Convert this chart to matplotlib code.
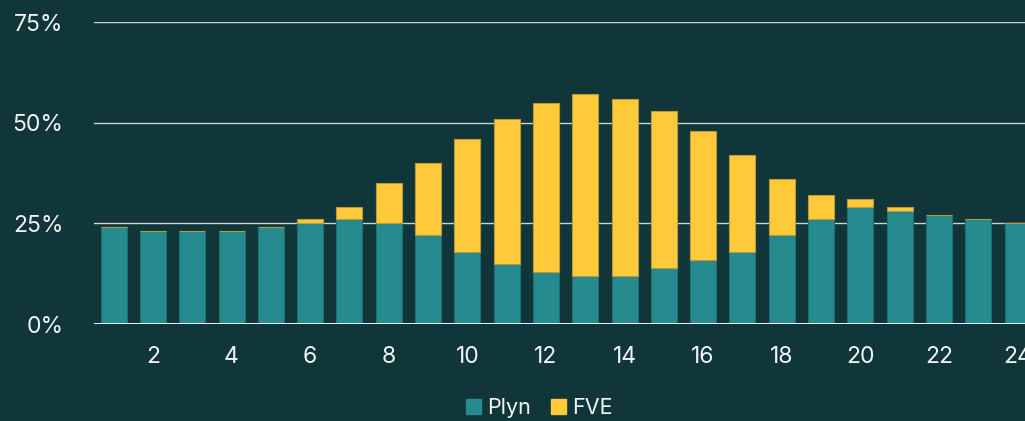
import matplotlib.pyplot as plt
from matplotlib.ticker import FuncFormatter
from matplotlib.patches import Patch

hours = list(range(1, 25))
plyn = [24, 23, 23, 23, 24, 25, 26, 25, 22, 18, 15, 13, 12, 12, 14, 16, 18, 22, 26, 29, 28, 27, 26, 25]
fve = [0, 0, 0, 0, 0, 1, 3, 10, 18, 28, 36, 42, 45, 44, 39, 32, 24, 14, 6, 2, 1, 0, 0, 0]

bg = '#11363a'
teal = '#268b8e'
yellow = '#ffca3a'
txt = '#f2f4f4'

plt.rcParams['font.family'] = ['Inter', 'DejaVu Sans']

fig = plt.figure(figsize=(10.25, 4.21), dpi=100, facecolor=bg)
ax = fig.add_axes([0.0917, 0.2304, 0.9083, 0.7173], facecolor=bg)

ax.bar(hours, plyn, width=0.66, color=teal, edgecolor='#1f6e71', linewidth=0.8, zorder=3)
ax.bar(hours, fve, width=0.66, bottom=plyn, color=yellow, edgecolor='#b99a3a',
       linewidth=0.8, zorder=3)

ax.set_xlim(0.5, 24.19)
ax.set_ylim(0, 75)
ax.set_yticks([0, 25, 50, 75])
ax.yaxis.set_major_formatter(FuncFormatter(lambda v, p: f'{v:.0f}%'))
ax.set_xticks(range(2, 25, 2))

ax.grid(axis='y', color='#c9d2d2', linewidth=1.0, zorder=1)
ax.axhline(0, color='white', linewidth=2, zorder=4)
for s in ax.spines.values():
    s.set_visible(False)
ax.tick_params(axis='both', length=0, colors=txt, labelsize=16.5)
ax.tick_params(axis='y', pad=22)
ax.tick_params(axis='x', pad=16)

handles = [Patch(color=teal, label='Plyn'), Patch(color=yellow, label='FVE')]
fig.legend(handles=handles, loc='center', bbox_to_anchor=(0.526, 0.03), ncol=2,
           frameon=False, fontsize=15.5, labelcolor=txt, handlelength=0.7,
           handleheight=0.7, handletextpad=0.3, columnspacing=0.9)

fig.savefig('out.png', dpi=100, facecolor=bg)
